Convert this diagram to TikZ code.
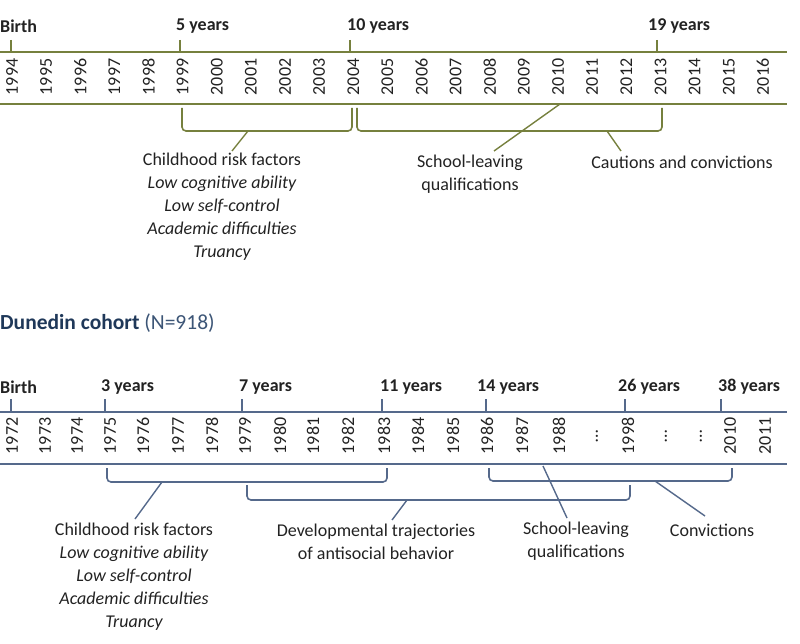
\documentclass[tikz,border=0pt]{standalone}
\usepackage{fontspec}
\setmainfont{Carlito}
\definecolor{olv}{HTML}{76803E}
\definecolor{slb}{HTML}{55698B}
\definecolor{txt}{HTML}{222222}
\definecolor{ttl}{HTML}{1F3859}
\definecolor{ttn}{HTML}{3C5576}
\begin{document}
\begin{tikzpicture}[x=1pt,y=-1pt,
  every node/.style={font=\fontsize{18}{23}\selectfont, text=txt, inner sep=0pt},
  yr/.style={rotate=90},
  tlab/.style={font=\fontsize{18}{23}\selectfont\bfseries, anchor=west},
  lab/.style={align=center},
  gline/.style={draw=olv, line width=2pt},
  bline/.style={draw=slb, line width=2pt},
  gbrk/.style={draw=olv, line width=1.6pt, rounded corners=4pt},
  bbrk/.style={draw=slb, line width=1.6pt, rounded corners=4pt},
  gptr/.style={draw=olv, line width=1.4pt},
  bptr/.style={draw=slb, line width=1.4pt}]
\useasboundingbox (0,0) rectangle (800,644);

% ===== Top timeline =====
\coordinate (gL1) at (0,52); \coordinate (gR1) at (787,52);
\coordinate (gL2) at (0,104); \coordinate (gR2) at (787,104);
\draw[gline] (gL1) -- (gR1);
\draw[gline] (gL2) -- (gR2);
\foreach \yy [count=\i from 0] in {1994,1995,1996,1997,1998,1999,2000,2001,2002,2003,2004,2005,2006,2007,2008,2009,2010,2011,2012,2013,2014,2015,2016}
  \node[yr] (ty\yy) at ({12+34.13*\i},77) {\yy};
% ticks
\foreach \nm/\x in {tb/11,t5/180,t10/350,t19/657}{
  \coordinate (\nm a) at (\x,40); \coordinate (\nm b) at (\x,52);
  \draw[gline, line width=1.5pt] (\nm a) -- (\nm b);
}
\node[tlab] (tlb) at (0,26) {Birth};
\node[tlab] (tl5) at (176,26) {5 years};
\node[tlab] (tl10) at (347,26) {10 years};
\node[tlab] (tl19) at (648,26) {19 years};
% brackets
\coordinate (tk1a) at (182,108); \coordinate (tk1b) at (352,131); \coordinate (tk1c) at (352,108);
\draw[gbrk] (tk1a) |- (tk1b) -- (tk1c);
\coordinate (tk2a) at (357,108); \coordinate (tk2b) at (662,131); \coordinate (tk2c) at (662,108);
\draw[gbrk] (tk2a) |- (tk2b) -- (tk2c);
% labels
\node[lab] (tchild) at (222,207) {Childhood risk factors\\\itshape Low cognitive ability\\\itshape Low self-control\\\itshape Academic difficulties\\\itshape Truancy};
\node[lab] (tschool) at (470,174) {School-leaving\\qualifications};
\node (tcaut) at (682,162) {Cautions and convictions};
% pointers
\coordinate (tp1s) at (248,131); \coordinate (tp1e) at (232,151);
\draw[gptr] (tp1s) -- (tp1e);
\coordinate (tp2s) at (560,104); \coordinate (tp2e) at (494,151);
\draw[gptr] (tp2s) -- (tp2e);
\coordinate (tp3s) at (607,131); \coordinate (tp3e) at (621,151);
\draw[gptr] (tp3s) -- (tp3e);

% ===== Title =====
\node[anchor=west, font=\fontsize{21.5}{26}\selectfont] (title) at (0,323) {\textcolor{ttl}{\bfseries Dunedin cohort} \textcolor{ttn}{(N=918)}};

% ===== Bottom timeline =====
\coordinate (bL1) at (0,412); \coordinate (bR1) at (787,412);
\coordinate (bL2) at (0,464); \coordinate (bR2) at (787,464);
\draw[bline] (bL1) -- (bR1);
\draw[bline] (bL2) -- (bR2);
\foreach \lab/\x [count=\i] in {1972/12,1973/45,1974/77,1975/110,1976/143,1977/178,1978/212,1979/245,1980/280,1981/313,1982/348,1983/384,1984/418,1985/453,1986/487,1987/522,1988/559,{\ldots}/597,1998/628,{\ldots}/666,{\ldots}/701,2010/730,2011/765}
  \node[yr] (by\i) at (\x,436) {\lab};
\foreach \nm/\x in {bb/11,b3/105,b7/242,b11/382,b14/486,b26/625,b38/721}{
  \coordinate (\nm a) at (\x,399); \coordinate (\nm b) at (\x,412);
  \draw[bline, line width=1.5pt] (\nm a) -- (\nm b);
}
\node[tlab] (blb) at (0,387) {Birth};
\node[tlab] (bl3) at (101,387) {3 years};
\node[tlab] (bl7) at (239,387) {7 years};
\node[tlab] (bl11) at (380,387) {11 years};
\node[tlab] (bl14) at (477,387) {14 years};
\node[tlab] (bl26) at (618,387) {26 years};
\node[tlab] (bl38) at (718,387) {38 years};
% brackets
\coordinate (bkAa) at (107,468); \coordinate (bkAb) at (387,482); \coordinate (bkAc) at (387,468);
\draw[bbrk] (bkAa) |- (bkAb) -- (bkAc);
\coordinate (bkBa) at (247,485); \coordinate (bkBb) at (630,500); \coordinate (bkBc) at (630,485);
\draw[bbrk] (bkBa) |- (bkBb) -- (bkBc);
\coordinate (bkCa) at (489,468); \coordinate (bkCb) at (732,481); \coordinate (bkCc) at (732,468);
\draw[bbrk] (bkCa) |- (bkCb) -- (bkCc);
% labels
\node[lab] (bchild) at (134,577) {Childhood risk factors\\\itshape Low cognitive ability\\\itshape Low self-control\\\itshape Academic difficulties\\\itshape Truancy};
\node[lab] (bdev) at (376,542) {Developmental trajectories\\of antisocial behavior};
\node[lab] (bschool) at (576,541) {School-leaving\\qualifications};
\node (bconv) at (712,530) {Convictions};
% pointers
\coordinate (bp1s) at (162,482); \coordinate (bp1e) at (135,519);
\draw[bptr] (bp1s) -- (bp1e);
\coordinate (bp2s) at (407,500); \coordinate (bp2e) at (392,520);
\draw[bptr] (bp2s) -- (bp2e);
\coordinate (bp3s) at (543,466); \coordinate (bp3e) at (567,518);
\draw[bptr] (bp3s) -- (bp3e);
\coordinate (bp4s) at (655,481); \coordinate (bp4e) at (705,516);
\draw[bptr] (bp4s) -- (bp4e);
\end{tikzpicture}
\end{document}
